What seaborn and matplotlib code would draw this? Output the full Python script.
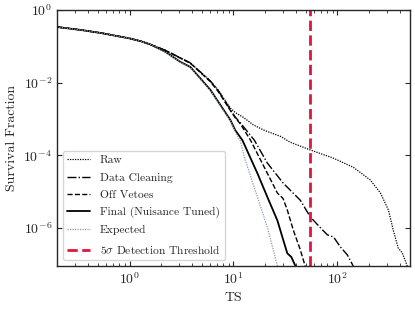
import matplotlib
matplotlib.use("Agg")
import matplotlib.pyplot as plt
from matplotlib.ticker import FixedLocator, NullLocator, LogFormatterSciNotation
import seaborn as sns
import pandas as pd

# values (TS, survival fraction)
ts_common = [0.2, 0.34, 0.53, 1.0, 1.28, 1.59]
sf_common = [0.340, 0.281, 0.232, 0.165, 0.138, 0.112]

ts_raw = ts_common + [2.22, 3.09, 3.85, 6.0, 7.17, 9.35, 10.4, 12.5, 15.6, 20.0, 28.5,
                      35.0, 55.0, 91.0, 142.0, 207.0, 260.0, 310.0, 345.0, 385.0, 420.0,
                      470.0]
sf_raw = sf_common + [0.0770, 0.0477, 0.0347, 0.0112, 0.0061, 0.0020, 1.5e-3, 1.1e-3,
                      6.8e-4, 4.8e-4, 3.3e-4, 2.3e-4, 1.4e-4, 8.4e-5, 4.7e-5, 2.1e-5,
                      9.1e-6, 3.1e-6, 8.7e-7, 2.8e-7, 2.1e-7, 9.0e-8]

ts_clean = ts_common + [2.22, 3.09, 3.85, 6.0, 7.17, 9.35, 10.4, 11.7, 15.9, 21.2, 30.2,
                        44.0, 55.0, 69.0, 80.0, 92.0, 107.0, 125.0, 142.0]
sf_clean = sf_common + [0.0770, 0.0477, 0.0347, 0.0110, 0.0059, 0.0018, 1.13e-3, 7.7e-4,
                        2.6e-4, 6.1e-5, 1.7e-5, 5.8e-6, 2.0e-6, 1.0e-6, 6.5e-7, 5.6e-7,
                        3.0e-7, 1.8e-7, 9.0e-8]

ts_veto = ts_common + [2.22, 3.09, 3.85, 6.0, 7.17, 9.35, 10.4, 11.7, 14.6, 21.2, 26.5,
                       30.0, 33.0, 37.7, 44.0, 49.0]
sf_veto = sf_common + [0.0765, 0.0470, 0.0340, 0.0106, 0.0056, 0.0017, 1.08e-3, 7.2e-4,
                       2.6e-4, 3.2e-5, 9.1e-6, 6.5e-6, 3.1e-6, 8.7e-7, 2.5e-7, 9.0e-8]

ts_final = ts_common + [2.22, 3.09, 3.85, 6.0, 9.35, 10.4, 12.2, 17.0, 21.2, 26.5, 30.2,
                        33.0, 36.0, 39.5]
sf_final = sf_common + [0.0700, 0.0370, 0.0269, 0.0063, 9.3e-4, 4.9e-4, 2.6e-4, 3.2e-5,
                        7.1e-6, 1.6e-6, 4.6e-7, 2.0e-7, 1.6e-7, 9.0e-8]

ts_expected = ts_common + [2.22, 3.09, 3.85, 6.0, 9.35, 10.4, 11.7, 13.0, 17.0, 21.2,
                           26.5]
sf_expected = sf_common + [0.0690, 0.0362, 0.0262, 0.0060, 8.8e-4, 4.5e-4, 2.4e-4,
                           7.4e-5, 7.1e-6, 1.05e-6, 9.0e-8]

threshold_ts = 55.0
y_ticks = [1e-6, 1e-4, 1e-2, 1e0]

sns.set_style("ticks")
plt.rcParams["font.family"] = "serif"
plt.rcParams["font.serif"] = ["cmr10", "DejaVu Serif"]
plt.rcParams["mathtext.fontset"] = "cm"
plt.rcParams["axes.formatter.use_mathtext"] = True
plt.rcParams["axes.unicode_minus"] = False

fig = plt.figure(figsize=(4.15, 3.1), dpi=100)
ax = fig.add_axes([0.137, 0.142, 0.851, 0.826])

series = [
    (ts_raw, sf_raw, "Raw", "black", (0, (1, 1)), 0.9),
    (ts_clean, sf_clean, "Data Cleaning", "black", "-.", 1.0),
    (ts_veto, sf_veto, "Off Vetoes", "black", "--", 1.0),
    (ts_final, sf_final, "Final (Nuisance Tuned)", "black", "-", 1.3),
    (ts_expected, sf_expected, "Expected", "#8c9aaa", (0, (1, 1)), 0.9),
]
for ts, sf, name, col, ls, lw in series:
    df = pd.DataFrame({"TS": ts, "SF": sf})
    sns.lineplot(data=df, x="TS", y="SF", ax=ax, color=col, linestyle=ls,
                 linewidth=lw, label=name, sort=False)

ax.axvline(threshold_ts, color="#e0143c", linestyle="--", linewidth=2,
           label=r"$5\sigma$ Detection Threshold")

ax.set_xscale("log")
ax.set_yscale("log")
ax.set_xlim(0.2, 500)
ax.set_ylim(9e-8, 1)
ax.yaxis.set_major_locator(FixedLocator(y_ticks))
ax.yaxis.set_major_formatter(LogFormatterSciNotation())
ax.yaxis.set_minor_locator(NullLocator())
ax.set_xlabel("TS", fontsize=10)
ax.set_ylabel("Survival Fraction", fontsize=10)
ax.tick_params(which="both", direction="in", top=True, right=True, labelsize=10)
for s in ax.spines.values():
    s.set_linewidth(1.0)

leg = ax.legend(loc="lower left", fontsize=8.3, frameon=True, fancybox=True,
                edgecolor="#cccccc", handlelength=2.0, labelspacing=0.62)

fig.savefig("out.png", dpi=100)
